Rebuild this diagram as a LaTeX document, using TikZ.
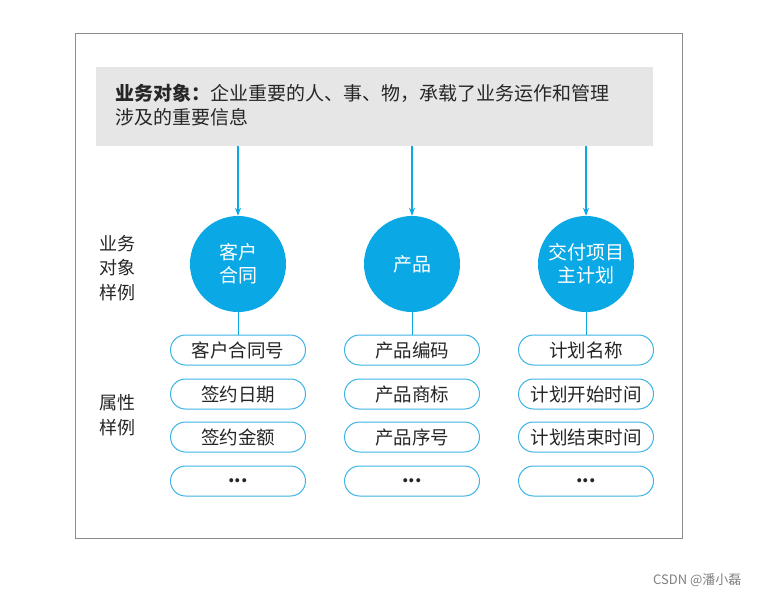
\documentclass[tikz,border=0pt]{standalone}
\usepackage{fontspec}
\setmainfont{Noto Sans CJK SC}
\usetikzlibrary{arrows.meta}
\definecolor{cblue}{HTML}{0BA8E6}
\definecolor{pblue}{HTML}{3DB5E6}
\definecolor{hgrey}{HTML}{E6E6E6}
\tikzset{
  circ/.style={circle,fill=cblue,minimum size=96pt,inner sep=0pt,text=white,font=\fontsize{19}{23}\selectfont,align=center},
  pill/.style={draw=pblue,line width=1pt,rounded corners=15pt,minimum width=135pt,minimum height=30pt,inner sep=0pt,font=\fontsize{18.5}{20}\selectfont,text=black!85},
  arr/.style={cblue,line width=1.2pt,-{Stealth[length=8pt,width=6pt]}},
  lbl/.style={font=\fontsize{18}{24.5}\selectfont,align=center,text=black!85}
}
\begin{document}
\begin{tikzpicture}[x=1pt,y=-1pt]
\useasboundingbox (0,0) rectangle (757,596);
\fill[white] (0,0) rectangle (757,596);
\draw[black!45,line width=0.8pt] (75,33) rectangle (682,538);
\node[fill=hgrey,minimum width=557pt,minimum height=79pt,inner sep=0pt] (hdr) at (374.5,106.5) {};
\node[anchor=west,font=\fontsize{19}{24}\selectfont,align=left,text=black!85] (ht) at (112,105)
 {\textbf{业务对象：}企业重要的人、事、物，承载了业务运作和管理\\涉及的重要信息};
\node[lbl] (l1) at (117,268) {业务\\对象\\样例};
\node[lbl] (l2) at (117,415) {属性\\样例};
\foreach \x/\n/\t in {238/a/{客户\\合同},412/b/{产品},586/c/{交付项目\\主计划}}{
  \coordinate (s\n) at (\x,146);
  \node[circ] (c\n) at (\x,264) {\t};
  \draw[arr] (s\n) -- (c\n.north);
}
\foreach \x/\n/\pa/\pb/\pc in {238/a/客户合同号/签约日期/签约金额,412/b/产品编码/产品商标/产品序号,586/c/计划名称/计划开始时间/计划结束时间}{
  \node[pill] (p\n1) at (\x,350) {\pa};
  \node[pill] (p\n2) at (\x,394) {\pb};
  \node[pill] (p\n3) at (\x,437) {\pc};
  \node[pill] (p\n4) at (\x,481) {\textbf{...}};
  \draw[cblue,line width=1pt] (c\n.south) -- (p\n1.north);
}
\node[anchor=east,font=\fontsize{13}{15}\selectfont,text=black!50] (wm) at (745,580) {CSDN @潘小磊};
\end{tikzpicture}
\end{document}
